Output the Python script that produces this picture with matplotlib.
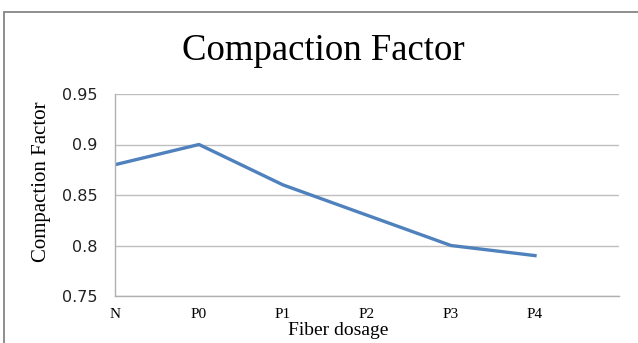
import matplotlib
matplotlib.use('Agg')
import matplotlib.pyplot as plt
from matplotlib.patches import Rectangle

# data
dosages = ['N', 'P0', 'P1', 'P2', 'P3', 'P4']
compaction = [0.88, 0.90, 0.86, 0.83, 0.80, 0.79]
yticks = [0.75, 0.8, 0.85, 0.9, 0.95]
ytick_labels = ['0.75', '0.8', '0.85', '0.9', '0.95']

fig = plt.figure(figsize=(6.38, 3.43), dpi=100)
ax = fig.add_axes([115/638, 1 - 296/343, 504/638, 202/343])

# chart border (excel style frame)
fig.patches.append(Rectangle((4/638, -0.1), 1.2, 1 - 12/343 + 0.1, transform=fig.transFigure,
                             fill=False, edgecolor='#868686', linewidth=1.3))

x = list(range(len(dosages)))
ax.plot(x, compaction, color='#4F81BD', linewidth=2.4, solid_joinstyle='round')

ax.set_xlim(0, len(dosages))
ax.set_ylim(0.75, 0.95)
ax.set_yticks(yticks)
ax.set_yticklabels(ytick_labels, fontfamily='DejaVu Sans', fontsize=11.5, color='#222222')
ax.set_xticks(x)
ax.set_xticklabels(dosages, fontfamily='Liberation Serif', fontsize=11)
ax.tick_params(length=0)
ax.tick_params(axis='y', pad=12.5)
ax.tick_params(axis='x', pad=9)

ax.grid(axis='y', color='#bfbfbf', linewidth=1.0)
ax.set_axisbelow(True)
for s in ['top', 'right']:
    ax.spines[s].set_visible(False)
for s in ['left', 'bottom']:
    ax.spines[s].set_color('#b0b0b0')
    ax.spines[s].set_linewidth(1.0)

ax.set_ylabel('Compaction Factor', fontfamily='Liberation Serif', fontsize=15)
ax.yaxis.set_label_coords(-0.145, 0.564)
ax.set_xlabel('Fiber dosage', fontfamily='Liberation Serif', fontsize=14)
ax.xaxis.set_label_coords(0.442, -0.172)
ax.xaxis.label.set_va('center')
ax.yaxis.label.set_va('center')

fig.text(323/638, 1 - 51/343, 'Compaction Factor', fontfamily='Liberation Serif',
         fontsize=26.5, ha='center', va='center')

fig.savefig('out.png', dpi=100)
